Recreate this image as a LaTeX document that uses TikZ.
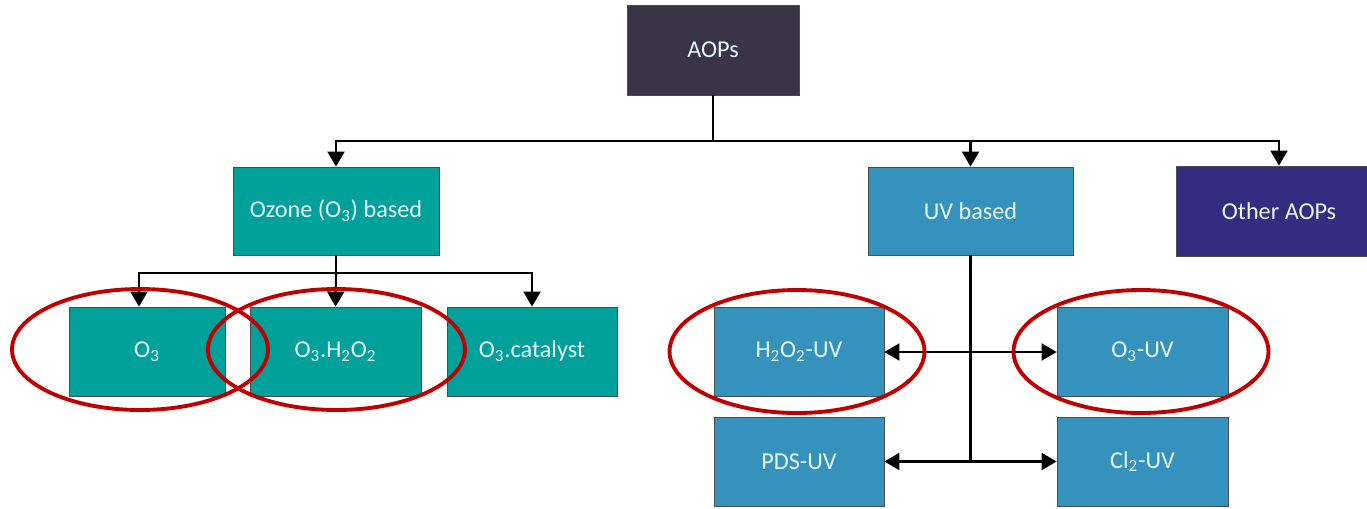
\documentclass[tikz,border=0pt]{standalone}
\usepackage{fontspec}
\setmainfont{Carlito}
\usetikzlibrary{arrows.meta}
\definecolor{aopdark}{HTML}{3A3546}
\definecolor{ozteal}{HTML}{00A19A}
\definecolor{uvblue}{HTML}{3592BC}
\definecolor{othblue}{HTML}{332C81}
\definecolor{ringred}{HTML}{C00000}
\newcommand{\sbs}[1]{\textsubscript{#1}}
\begin{document}
\begin{tikzpicture}[x=0.02cm,y=-0.02cm,
  box/.style={draw=black!70,line width=0.5pt,text=white!90!cyan,
    font=\fontsize{13.8}{16}\selectfont,inner sep=0pt},
  link/.style={line width=1.2pt},
  tip/.style={link,-{Triangle[width=0.34cm,length=0.3cm]}},
  ring/.style={draw=ringred,line width=2.2pt}]
\useasboundingbox (0,0) rectangle (1367,508);
\clip (0,0) rectangle (1367,508);
% top level
\node[box,fill=aopdark,minimum width=3.44cm,minimum height=1.8cm] (aops) at (713,50) {AOPs};
\node[box,fill=ozteal,minimum width=4.12cm,minimum height=1.76cm] (ozone) at (336,211) {Ozone (O\sbs{3}) based};
\node[box,fill=uvblue,minimum width=4.1cm,minimum height=1.76cm] (uv) at (970.5,211) {UV based};
\node[box,fill=othblue,minimum width=4.12cm,minimum height=1.8cm] (other) at (1279,211) {Other AOPs};
% ozone branch
\node[box,fill=ozteal,minimum width=3.12cm,minimum height=1.78cm] (o3) at (147,351.5) {O\sbs{3}};
\node[box,fill=ozteal,minimum width=3.42cm,minimum height=1.78cm] (o3h) at (335.5,351.5) {O\sbs{3}.H\sbs{2}O\sbs{2}};
\node[box,fill=ozteal,minimum width=3.4cm,minimum height=1.78cm] (o3c) at (532,351.5) {O\sbs{3}.catalyst};
% uv branch
\node[box,fill=uvblue,minimum width=3.4cm,minimum height=1.78cm] (h2uv) at (799,352) {H\sbs{2}O\sbs{2}-UV};
\node[box,fill=uvblue,minimum width=3.42cm,minimum height=1.78cm] (o3uv) at (1142.5,352) {O\sbs{3}-UV};
\node[box,fill=uvblue,minimum width=3.4cm,minimum height=1.78cm] (pds) at (799,461.5) {PDS-UV};
\node[box,fill=uvblue,minimum width=3.42cm,minimum height=1.78cm] (cl) at (1142.5,461.5) {Cl\sbs{2}-UV};
% connectors
\coordinate (bus) at (713,141);
\draw[link] (aops.south) -- (bus);
\draw[tip] (bus) -| (ozone.north);
\draw[tip] (bus) -| (uv.north);
\draw[tip] (bus) -| (other.north);
\coordinate (obus) at (336,273);
\draw[link] (ozone.south) -- (obus);
\draw[tip] (obus) -| ([xshift=-0.16cm]o3.north);
\draw[tip] (obus) -- (o3h.north);
\draw[tip] (obus) -| (o3c.north);
\coordinate (uvmid) at (uv.south |- h2uv.east);
\coordinate (uvlow) at (uv.south |- pds.east);
\draw[link] (uv.south) -- (uvlow);
\draw[tip] (uvmid) -- (h2uv.east);
\draw[tip] (uvmid) -- (o3uv.west);
\draw[tip] (uvlow) -- (pds.east);
\draw[tip] (uvlow) -- (cl.west);
% highlight rings
\draw[ring] (140,349.5) ellipse [x radius=2.56cm, y radius=1.21cm];
\draw[ring] (336.5,349.5) ellipse [x radius=2.57cm, y radius=1.21cm];
\draw[ring] (797,351.5) ellipse [x radius=2.55cm, y radius=1.23cm];
\draw[ring] (1141,351.5) ellipse [x radius=2.55cm, y radius=1.23cm];
\end{tikzpicture}
\end{document}
